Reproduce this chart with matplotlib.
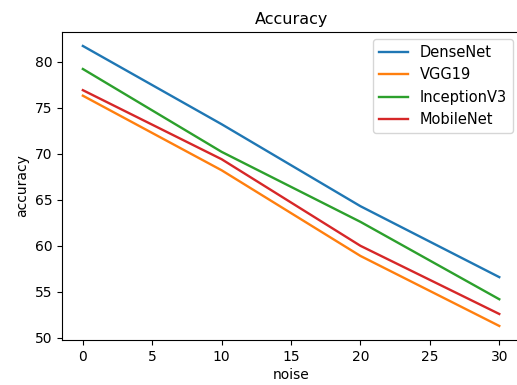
import matplotlib
matplotlib.use("Agg")
import matplotlib.pyplot as plt

noise = [0, 10, 20, 30]
densenet = [81.7, 73.2, 64.3, 56.6]
vgg19 = [76.3, 68.2, 58.9, 51.3]
inception = [79.2, 70.2, 62.6, 54.2]
mobilenet = [76.9, 69.4, 60.0, 52.6]

fig = plt.figure(figsize=(5.17, 3.85), dpi=100)
ax = fig.add_axes([0.120, 0.117, 0.886, 0.800])

ax.plot(noise, densenet, lw=1.7, label="DenseNet")
ax.plot(noise, vgg19, lw=1.7, label="VGG19")
ax.plot(noise, inception, lw=1.7, label="InceptionV3")
ax.plot(noise, mobilenet, lw=1.7, label="MobileNet")

# the right edge is cut off in the original screenshot
ax.spines["right"].set_visible(False)

ax.set_title("Accuracy", fontsize=11.5)
ax.set_xlabel("noise", fontsize=10, labelpad=3)
ax.set_ylabel("accuracy", fontsize=10)
ax.tick_params(labelsize=10)
ax.legend(loc="upper right", fontsize=10.5)

fig.savefig("out.png", dpi=100)
